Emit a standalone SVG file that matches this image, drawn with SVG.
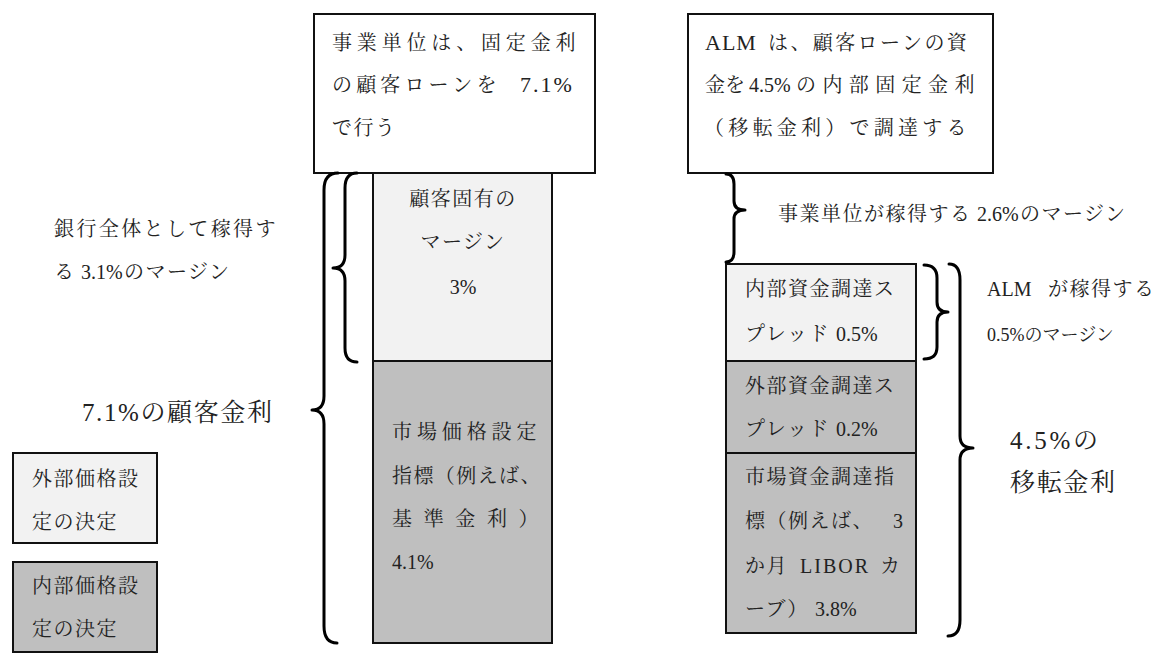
<svg xmlns="http://www.w3.org/2000/svg" width="1156" height="653" viewBox="0 0 1156 653">
<style>
  text { font-family: "Liberation Serif", "Noto Serif CJK JP", "Noto Sans CJK JP", serif; font-size: 20px; fill: #222; letter-spacing: 1.5px; }
  .lat { letter-spacing: 0; }
  .sm { font-size: 18px; letter-spacing: 0; }
  .big { font-size: 25px; letter-spacing: 0; }
  .mid { text-anchor: middle; }
  .box { stroke: #111; stroke-width: 2; }
  .white { fill: #ffffff; }
  .light { fill: #f2f2f2; }
  .dark { fill: #bfbfbf; }
  .brace { fill: none; stroke: #000; stroke-width: 3; stroke-linecap: round; stroke-linejoin: round; }
</style>
<rect width="1156" height="653" fill="#ffffff"/>

<g id="business-unit-box">
  <rect class="box white" x="314" y="14" width="281" height="159"/>
  <text x="332" y="50" textLength="245" lengthAdjust="spacing">事業単位は、固定金利</text>
  <text x="332" y="92"><tspan textLength="166" lengthAdjust="spacing">の顧客ローンを</tspan><tspan class="lat" x="520" style="font-size:22px;letter-spacing:2px">7.1%</tspan></text>
  <text x="332" y="135">で行う</text>
</g>

<g id="alm-box">
  <rect class="box white" x="688" y="14" width="305" height="159"/>
  <text x="705" y="50"><tspan class="lat" style="font-size:22px;letter-spacing:1px">ALM</tspan><tspan x="768" style="letter-spacing:2.4px">は、顧客ローンの資</tspan></text>
  <text x="705" y="92"><tspan style="letter-spacing:0">金を</tspan><tspan class="lat" x="749">4.5%</tspan><tspan x="796" textLength="180" lengthAdjust="spacing">の内部固定金利</tspan></text>
  <text x="704" y="135" textLength="264" lengthAdjust="spacing">（移転金利）で調達する</text>
</g>

<g id="customer-margin">
  <rect class="box light" x="373" y="173" width="179" height="188"/>
  <text class="mid" x="463" y="206">顧客固有の</text>
  <text class="mid" x="463" y="249">マージン</text>
  <text class="mid lat" x="463" y="294">3%</text>
</g>

<g id="market-index">
  <rect class="box dark" x="373" y="361" width="179" height="282"/>
  <text x="392" y="439" textLength="146" lengthAdjust="spacing">市場価格設定</text>
  <text x="392" y="483" textLength="150" lengthAdjust="spacing">指標（例えば、</text>
  <text x="392" y="526" textLength="148" lengthAdjust="spacing">基 準 金 利 ）</text>
  <text class="lat" x="392" y="569">4.1%</text>
</g>

<g id="internal-spread">
  <rect class="box light" x="726" y="264" width="190" height="97"/>
  <text x="745" y="296">内部資金調達ス</text>
  <text x="745" y="341"><tspan>プレッド</tspan><tspan class="lat" x="836">0.5%</tspan></text>
</g>

<g id="external-spread">
  <rect class="box dark" x="726" y="361" width="190" height="92"/>
  <text x="745" y="393">外部資金調達ス</text>
  <text x="745" y="436"><tspan>プレッド</tspan><tspan class="lat" x="836">0.2%</tspan></text>
</g>

<g id="market-funding-index">
  <rect class="box dark" x="726" y="453" width="190" height="180"/>
  <text x="745" y="484">市場資金調達指</text>
  <text x="745" y="528"><tspan>標（例えば、</tspan><tspan class="lat" x="893">3</tspan></text>
  <text x="745" y="573"><tspan>か月</tspan><tspan class="lat" x="800" style="letter-spacing:2px">LIBOR</tspan><tspan x="880">カ</tspan></text>
  <text x="745" y="616"><tspan>ーブ）</tspan><tspan class="lat" x="815">3.8%</tspan></text>
</g>

<g id="legend-external">
  <rect class="box light" x="13" y="453" width="144" height="90"/>
  <text x="32" y="486">外部価格設</text>
  <text x="32" y="529">定の決定</text>
</g>

<g id="legend-internal">
  <rect class="box dark" x="13" y="562" width="144" height="90"/>
  <text x="32" y="593">内部価格設</text>
  <text x="32" y="636">定の決定</text>
</g>

<g id="labels">
  <text x="54" y="236" textLength="223" lengthAdjust="spacing">銀行全体として稼得す</text>
  <text x="54" y="279"><tspan>る</tspan><tspan class="lat" x="81">3.1%</tspan><tspan x="124">のマージン</tspan></text>
  <text class="big" x="82" y="421" textLength="190" lengthAdjust="spacing">7.1%の顧客金利</text>
  <text x="778" y="221"><tspan>事業単位が稼得する</tspan><tspan class="lat" x="977">2.6%</tspan><tspan x="1020">のマージン</tspan></text>
  <text x="987" y="296"><tspan class="lat">ALM</tspan><tspan x="1048">が稼得する</tspan></text>
  <text class="sm" x="987" y="341">0.5%のマージン</text>
  <text class="big" x="1010" y="449" textLength="88" lengthAdjust="spacing">4.5%の</text>
  <text class="big" x="1010" y="491" textLength="105" lengthAdjust="spacing">移転金利</text>
</g>

<g id="connectors">
  <path class="brace" d="M338 173 Q324 173 324 190 L324 396 Q324 410 312 410 Q324 410 324 424 L324 626 Q324 643 337 643"/>
  <path class="brace" d="M357 173 Q345 173 345 188 L345 255 Q345 268 333 268 Q345 268 345 281 L345 348 Q345 362 357 362"/>
  <path class="brace" d="M726 174 Q734 174 734 184 L734 201 Q734 210 745 210 Q734 210 734 219 L734 252 Q734 262 726 262"/>
  <path class="brace" d="M924 265 Q937 265 937 278 L937 302 Q937 312 948 312 Q937 312 937 322 L937 347 Q937 359 924 359"/>
  <path class="brace" d="M949 264 Q960 264 960 280 L960 436 Q960 448 973 448 Q960 448 960 460 L960 620 Q960 636 948 636"/>
</g>
</svg>
